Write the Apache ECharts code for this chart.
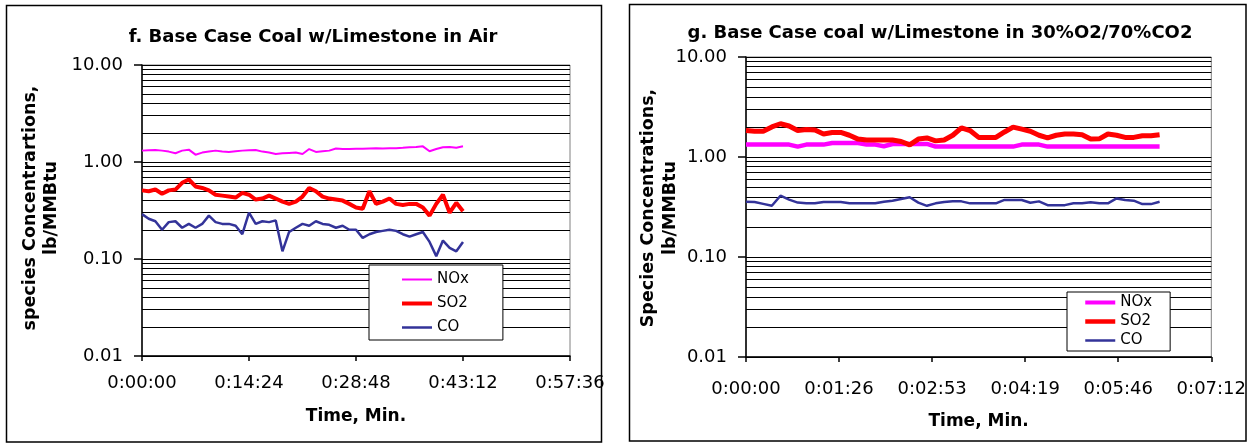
<!DOCTYPE html>
<html>
<head>
<meta charset="utf-8">
<script src="https://cdn.jsdelivr.net/npm/echarts@6/dist/echarts.min.js"></script>
<style>html,body{margin:0;padding:0;background:#fff}#c{width:1249px;height:445px}</style>
</head>
<body>
<div id="c"></div>
<script>
// ---------- DATA ----------
const seriesNames = ['NOx', 'SO2', 'CO'];
const seriesColors = ['#FF00FF', '#FF0000', '#333399'];

// Chart f (air) - time in seconds
const leftTime = [0,54,108,162,216,270,324,378,432,486,540,594,648,702,756,810,864,918,972,1026,1080,1134,1188,1242,1296,1350,1404,1458,1512,1566,1620,1674,1728,1782,1836,1890,1944,1998,2052,2106,2160,2214,2268,2322,2376,2430,2484,2538,2592];
const leftNOx = [1.31,1.32,1.33,1.31,1.28,1.23,1.31,1.34,1.19,1.25,1.28,1.31,1.28,1.27,1.29,1.31,1.32,1.33,1.28,1.25,1.21,1.23,1.24,1.25,1.21,1.36,1.27,1.29,1.31,1.38,1.36,1.36,1.37,1.37,1.38,1.39,1.38,1.39,1.39,1.40,1.42,1.43,1.45,1.29,1.36,1.42,1.43,1.40,1.45];
const leftSO2 = [0.51,0.50,0.52,0.47,0.51,0.52,0.61,0.66,0.56,0.54,0.51,0.46,0.45,0.44,0.43,0.48,0.46,0.41,0.42,0.45,0.42,0.39,0.37,0.39,0.44,0.54,0.50,0.44,0.42,0.41,0.40,0.37,0.34,0.33,0.50,0.37,0.39,0.42,0.37,0.36,0.37,0.37,0.34,0.28,0.37,0.46,0.30,0.38,0.31];
const leftCO = [0.29,0.26,0.245,0.20,0.24,0.245,0.21,0.23,0.21,0.23,0.28,0.24,0.23,0.23,0.22,0.18,0.30,0.23,0.245,0.24,0.25,0.12,0.19,0.21,0.23,0.22,0.245,0.23,0.225,0.21,0.22,0.20,0.20,0.165,0.18,0.19,0.195,0.20,0.195,0.18,0.17,0.18,0.19,0.15,0.107,0.155,0.13,0.12,0.15];

// Chart g (30%O2/70%CO2) - time in seconds
const rightTime = [0,8,16,24,32,40,48,56,64,72,80,88,96,104,112,120,128,136,144,152,160,168,176,184,192,200,208,216,224,232,240,248,256,264,272,280,288,296,304,312,320,328,336,344,352,360,368,376,384];
const rightNOx = [1.33,1.33,1.33,1.33,1.33,1.33,1.27,1.33,1.33,1.33,1.38,1.38,1.38,1.38,1.33,1.33,1.28,1.35,1.35,1.35,1.35,1.35,1.27,1.27,1.27,1.27,1.27,1.27,1.27,1.27,1.27,1.27,1.33,1.33,1.33,1.27,1.27,1.27,1.27,1.27,1.27,1.27,1.27,1.27,1.27,1.27,1.27,1.27,1.27];
const rightSO2 = [1.84,1.81,1.81,2.00,2.15,2.04,1.84,1.88,1.86,1.70,1.76,1.76,1.65,1.51,1.48,1.48,1.48,1.48,1.43,1.32,1.51,1.55,1.45,1.48,1.65,1.96,1.84,1.57,1.57,1.57,1.78,1.99,1.90,1.81,1.65,1.55,1.65,1.70,1.70,1.67,1.51,1.52,1.70,1.65,1.57,1.57,1.63,1.63,1.67];
const rightCO = [0.357,0.355,0.34,0.325,0.41,0.375,0.35,0.344,0.344,0.355,0.355,0.355,0.344,0.344,0.344,0.344,0.357,0.366,0.38,0.396,0.35,0.325,0.344,0.355,0.36,0.36,0.344,0.344,0.344,0.344,0.372,0.372,0.372,0.349,0.36,0.33,0.33,0.33,0.344,0.344,0.352,0.344,0.344,0.385,0.372,0.366,0.338,0.338,0.357];

// Axis ticks
const yMin = 0.01, yMax = 10;
const minorGridValues = [0.02,0.03,0.04,0.05,0.06,0.07,0.08,0.09,0.2,0.3,0.4,0.5,0.6,0.7,0.8,0.9,2,3,4,5,6,7,8,9];
const leftXMax = 3456, leftXInterval = 864;   // 0:57:36, 0:14:24
const rightXMax = 432, rightXInterval = 86.4; // 0:07:12, 0:01:26

const titleLeft = 'f. Base Case Coal w/Limestone in Air';
const titleRight = 'g. Base Case coal w/Limestone in 30%O2/70%CO2';
const yNameLeft = ['species Concentrartions,', 'lb/MMBtu'];
const yNameRight = ['Species Concentrations,', 'lb/MMBtu'];
const xName = 'Time, Min.';

// ---------- HELPERS ----------
const FONT = '"DejaVu Sans", sans-serif';
function pad(n){ return (n < 10 ? '0' : '') + n; }
function fmtTime(v){
  const s = Math.round(v);
  const h = Math.floor(s / 3600), m = Math.floor((s % 3600) / 60), sec = s % 60;
  return h + ':' + pad(m) + ':' + pad(sec);
}
function pairs(t, v){ return t.map((x, i) => [x, v[i]]); }

function xAxisCfg(gi, max, interval, nameGap, margin){
  return {
    type: 'value', gridIndex: gi, min: 0, max: max, interval: interval,
    name: xName, nameLocation: 'middle', nameGap: nameGap,
    nameTextStyle: {fontFamily: FONT, fontWeight: 'bold', fontSize: 17, color: '#000'},
    axisLine: {show: true, onZero: false, lineStyle: {color: '#000', width: 1.5}},
    axisTick: {show: true, length: 5, lineStyle: {color: '#000', width: 1.5}},
    axisLabel: {color: '#000', fontFamily: FONT, fontSize: 18, margin: margin, formatter: fmtTime},
    splitLine: {show: false}
  };
}
function yAxisCfg(gi){
  return {
    type: 'log', logBase: 10, gridIndex: gi, min: yMin, max: yMax,
    axisLine: {show: true, onZero: false, lineStyle: {color: '#000', width: 1.5}},
    axisTick: {show: true, length: 8, lineStyle: {color: '#000', width: 1.5}},
    axisLabel: {color: '#000', fontFamily: FONT, fontSize: 18, margin: 19, formatter: v => v.toFixed(2)},
    splitLine: {show: true, lineStyle: {color: '#000', width: 1}}
  };
}
// carrier series for the minor (2..9) log grid lines; a single anchor point, no visible line
function minorSeries(gi, t0){
  return {
    type: 'line', name: 'minor' + gi, xAxisIndex: gi, yAxisIndex: gi,
    data: [[t0, 1]], symbol: 'none', showSymbol: false, z: 1, silent: true,
    lineStyle: {opacity: 0},
    markLine: {
      silent: true, symbol: ['none', 'none'], label: {show: false}, animation: false,
      lineStyle: {color: '#000', width: 1, type: 'solid'},
      emphasis: {disabled: true},
      data: minorGridValues.map(v => ({yAxis: v}))
    }
  };
}
function dataSeries(gi, name, color, width, t, v){
  return {
    type: 'line', name: name, xAxisIndex: gi, yAxisIndex: gi, z: 10,
    data: pairs(t, v), showSymbol: false, symbol: 'none', smooth: false,
    lineStyle: {color: color, width: width}, itemStyle: {color: color},
    emphasis: {disabled: true}, animation: false
  };
}
function legendCfg(left, top, padding, gap, widths){
  return {
    orient: 'vertical', left: left, top: top, padding: padding, itemGap: gap,
    itemWidth: 30, itemHeight: 14, selectedMode: false, z: 20,
    borderColor: '#000', borderWidth: 1, backgroundColor: '#fff',
    textStyle: {fontFamily: FONT, fontSize: 15, color: '#000'},
    data: seriesNames.map((n, i) => ({
      name: n,
      lineStyle: {width: widths[i], color: seriesColors[i]},
      itemStyle: {opacity: 0}
    }))
  };
}
function vText(x, y, text){
  return {type: 'text', x: x, y: y, rotation: Math.PI / 2, z: 10,
    style: {text: text, fill: '#000', font: 'bold 17.5px ' + FONT, align: 'center', verticalAlign: 'middle'}};
}
function hText(x, y, text, size){
  return {type: 'text', x: x, y: y, z: 10,
    style: {text: text, fill: '#000', font: 'bold ' + size + 'px ' + FONT, align: 'center', verticalAlign: 'middle'}};
}

// ---------- CHART ----------
const chart = echarts.init(document.getElementById('c'), null, {renderer: 'canvas'});
chart.setOption({
  animation: false,
  backgroundColor: '#fff',
  grid: [
    {left: 142, top: 65, width: 428, height: 291, show: true, borderColor: '#808080', borderWidth: 1, backgroundColor: 'transparent'},
    {left: 746, top: 57, width: 468, height: 300, show: true, borderColor: '#808080', borderWidth: 1, backgroundColor: 'transparent'}
  ],
  xAxis: [xAxisCfg(0, leftXMax, leftXInterval, 52, 18), xAxisCfg(1, rightXMax, rightXInterval, 56, 23)],
  yAxis: [yAxisCfg(0), yAxisCfg(1)],
  legend: [
    legendCfg(369, 265, [7, 34, 5, 31], 9, [2, 4, 2.5]),
    legendCfg(1067, 292, [3, 18, 3, 16], 4, [4, 4.5, 2.5])
  ],
  series: [
    minorSeries(0, leftTime[0]), minorSeries(1, rightTime[0]),
    dataSeries(0, 'NOx', seriesColors[0], 2, leftTime, leftNOx),
    dataSeries(0, 'SO2', seriesColors[1], 4, leftTime, leftSO2),
    dataSeries(0, 'CO', seriesColors[2], 2.5, leftTime, leftCO),
    dataSeries(1, 'NOx', seriesColors[0], 4.5, rightTime, rightNOx),
    dataSeries(1, 'SO2', seriesColors[1], 5, rightTime, rightSO2),
    dataSeries(1, 'CO', seriesColors[2], 2.5, rightTime, rightCO)
  ],
  graphic: [
    {type: 'rect', shape: {x: 6.5, y: 5.5, width: 595, height: 436.5}, style: {fill: 'none', stroke: '#000', lineWidth: 1.5}, z: 0},
    {type: 'rect', shape: {x: 629.5, y: 4.5, width: 616.5, height: 436.5}, style: {fill: 'none', stroke: '#000', lineWidth: 1.5}, z: 0},
    hText(313, 37, titleLeft, 18),
    hText(940, 33, titleRight, 18),
    vText(30, 208, yNameLeft[0]),
    vText(51, 208, yNameLeft[1]),
    vText(648, 208, yNameRight[0]),
    vText(670, 208, yNameRight[1])
  ]
});
</script>
</body>
</html>
